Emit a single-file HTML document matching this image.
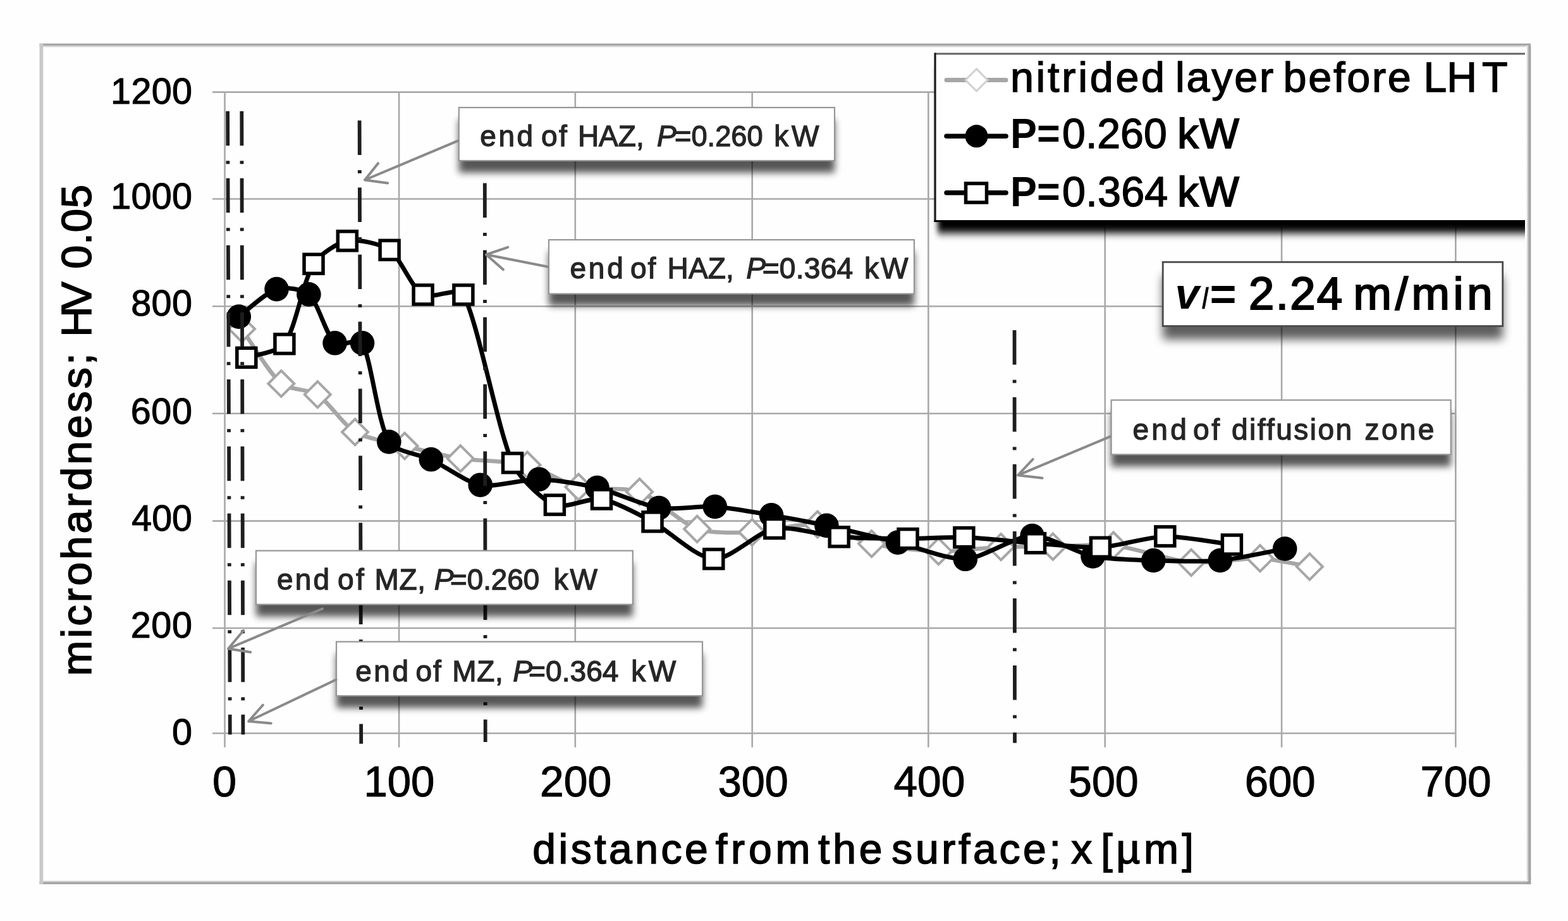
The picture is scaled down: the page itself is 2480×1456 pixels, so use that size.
<!DOCTYPE html>
<html><head><meta charset="utf-8"><title>microhardness chart</title>
<style>
html,body{margin:0;padding:0;background:#fff;}
body{width:2480px;height:1456px;overflow:hidden;}
svg{display:block;}
text{font-family:"Liberation Sans", Arial, sans-serif;}
</style></head><body>

<svg width="2480" height="1456" viewBox="0 0 2480 1456">
<defs><filter id="sh" x="-10%" y="-60%" width="120%" height="220%"><feGaussianBlur stdDeviation="6"/></filter><filter id="shv" x="-10%" y="-60%" width="120%" height="220%"><feGaussianBlur stdDeviation="7.5"/></filter><filter id="shl" x="-10%" y="-30%" width="120%" height="160%"><feGaussianBlur stdDeviation="4 6.5"/></filter><clipPath id="clipr"><rect x="0" y="0" width="2412" height="1456"/></clipPath></defs>
<rect x="0" y="0" width="2480" height="1456" fill="#fefefe"/>
<defs><linearGradient id="gT" x1="0" y1="0" x2="0" y2="1"><stop offset="0" stop-color="#9e9e9e"/><stop offset="0.35" stop-color="#a8a8a8"/><stop offset="1" stop-color="#fefefe"/></linearGradient><linearGradient id="gB" x1="0" y1="1" x2="0" y2="0"><stop offset="0" stop-color="#9e9e9e"/><stop offset="0.4" stop-color="#a6a6a6"/><stop offset="1" stop-color="#fefefe"/></linearGradient><linearGradient id="gR" x1="1" y1="0" x2="0" y2="0"><stop offset="0" stop-color="#9e9e9e"/><stop offset="0.4" stop-color="#a6a6a6"/><stop offset="1" stop-color="#fefefe"/></linearGradient></defs>
<rect x="62.5" y="68.8" width="2358.5" height="6.5" fill="url(#gT)"/>
<rect x="2414" y="72" width="7.3" height="1319.5" fill="url(#gR)"/>
<rect x="62.5" y="1391.5" width="2358.8" height="6.3" fill="url(#gB)"/>
<rect x="62.5" y="68.8" width="5.8" height="1329" fill="#c9c9c9"/>
<path d="M2414,1397.8L2421.3,1397.8L2421.3,1388L2414,1395.3Z" fill="#a2a2a2"/>
<path d="M336,1159.2H2303.3 M336,993.0H2303.3 M336,823.6H2303.3 M336,653.8H2303.3 M336,484.2H2303.3 M336,314.5H2303.3 M336,145.6H2303.3 M355.5,145.6V1181.5 M631.1,145.6V1181.5 M909.8,145.6V1181.5 M1189.7,145.6V1181.5 M1468.3,145.6V1181.5 M1747.7,145.6V1181.5 M2027.1,145.6V1181.5 M2302.3,145.6V1181.5" stroke="#a9a9a9" stroke-width="2.6" fill="none"/>
<text x="272.0" y="1177.1" font-size="57.5" fill="#000" stroke="#000" stroke-width="1.10" xml:space="preserve">0</text>
<text x="206.7" y="1008.2" font-size="57.5" fill="#000" stroke="#000" stroke-width="1.10" textLength="97.2" lengthAdjust="spacing" xml:space="preserve">200</text>
<text x="208.3" y="838.6" font-size="57.5" fill="#000" stroke="#000" stroke-width="1.10" textLength="95.6" lengthAdjust="spacingAndGlyphs" xml:space="preserve">400</text>
<text x="206.7" y="669.5" font-size="57.5" fill="#000" stroke="#000" stroke-width="1.10" textLength="97.2" lengthAdjust="spacing" xml:space="preserve">600</text>
<text x="207.2" y="499.2" font-size="57.5" fill="#000" stroke="#000" stroke-width="1.10" textLength="96.8" lengthAdjust="spacing" xml:space="preserve">800</text>
<text x="175.3" y="330.2" font-size="57.5" fill="#000" stroke="#000" stroke-width="1.10" textLength="128.7" lengthAdjust="spacing" xml:space="preserve">1000</text>
<text x="175.1" y="163.5" font-size="57.5" fill="#000" stroke="#000" stroke-width="1.10" textLength="128.9" lengthAdjust="spacing" xml:space="preserve">1200</text>
<text x="335.9" y="1259.3" font-size="68.5" fill="#000" stroke="#000" stroke-width="1.10" xml:space="preserve">0</text>
<text x="575.4" y="1259.3" font-size="68.5" fill="#000" stroke="#000" stroke-width="1.10" textLength="112.0" lengthAdjust="spacingAndGlyphs" xml:space="preserve">100</text>
<text x="854.0" y="1259.3" font-size="68.5" fill="#000" stroke="#000" stroke-width="1.10" textLength="113.1" lengthAdjust="spacingAndGlyphs" xml:space="preserve">200</text>
<text x="1135.7" y="1259.3" font-size="68.5" fill="#000" stroke="#000" stroke-width="1.10" textLength="111.1" lengthAdjust="spacingAndGlyphs" xml:space="preserve">300</text>
<text x="1413.4" y="1259.3" font-size="68.5" fill="#000" stroke="#000" stroke-width="1.10" textLength="112.9" lengthAdjust="spacingAndGlyphs" xml:space="preserve">400</text>
<text x="1690.1" y="1259.3" font-size="68.5" fill="#000" stroke="#000" stroke-width="1.10" textLength="110.6" lengthAdjust="spacingAndGlyphs" xml:space="preserve">500</text>
<text x="1968.7" y="1259.3" font-size="68.5" fill="#000" stroke="#000" stroke-width="1.10" textLength="112.0" lengthAdjust="spacingAndGlyphs" xml:space="preserve">600</text>
<text x="2246.5" y="1259.3" font-size="68.5" fill="#000" stroke="#000" stroke-width="1.10" textLength="112.1" lengthAdjust="spacingAndGlyphs" xml:space="preserve">700</text>
<text x="842.3" y="1364.8" font-size="66.0" fill="#000" stroke="#000" stroke-width="1.60" textLength="277.4" lengthAdjust="spacing" xml:space="preserve">distance</text>
<text x="1131.7" y="1364.8" font-size="66.0" fill="#000" stroke="#000" stroke-width="1.60" textLength="149.9" lengthAdjust="spacing" xml:space="preserve">from</text>
<text x="1294.0" y="1364.8" font-size="66.0" fill="#000" stroke="#000" stroke-width="1.60" textLength="101.4" lengthAdjust="spacing" xml:space="preserve">the</text>
<text x="1410.3" y="1364.8" font-size="66.0" fill="#000" stroke="#000" stroke-width="1.60" textLength="267.5" lengthAdjust="spacing" xml:space="preserve">surface;</text>
<text x="1694.2" y="1364.8" font-size="66.0" fill="#000" stroke="#000" stroke-width="1.60" xml:space="preserve">x</text>
<text x="1741.2" y="1364.8" font-size="66.0" fill="#000" stroke="#000" stroke-width="1.60" textLength="146.7" lengthAdjust="spacing" xml:space="preserve">[µm]</text>
<text transform="translate(144.4,1064.1) rotate(-90)" x="-4.5" y="0" font-size="67.0" fill="#000" stroke="#000" stroke-width="1.60" textLength="510.3" lengthAdjust="spacing">microhardness;</text>
<text transform="translate(144.4,527.3) rotate(-90)" x="-5.5" y="0" font-size="67.0" fill="#000" stroke="#000" stroke-width="1.60" textLength="87.4" lengthAdjust="spacing">HV</text>
<text transform="translate(144.4,422.2) rotate(-90)" x="-2.7" y="0" font-size="67.0" fill="#000" stroke="#000" stroke-width="1.60" textLength="132.9" lengthAdjust="spacing">0.05</text>
<path d="M382.5,520.0 C392.9,534.4 424.8,589.2 444.8,606.5 C456.1,616.3 489.8,615.5 502.3,623.7 C519.8,635.2 543.5,672.3 561.5,683.0 C579.1,693.4 620.2,700.0 640.0,705.0 C661.9,710.5 705.9,721.4 728.3,724.9 C754.5,729.0 808.2,728.8 834.0,735.0 C855.4,740.2 893.5,764.9 915.0,770.0 C938.5,775.6 988.7,769.4 1011.5,777.5 C1037.1,786.5 1077.1,827.1 1102.6,836.3 C1123.1,843.7 1167.8,842.3 1189.5,841.5 C1215.5,840.5 1267.1,826.5 1293.0,829.0 C1315.6,831.2 1356.4,854.7 1378.6,859.6 C1404.6,865.4 1457.8,871.0 1484.4,871.7 C1509.2,872.3 1558.5,865.7 1583.2,864.7 C1603.7,863.8 1644.8,864.5 1665.3,864.2 C1689.2,863.8 1737.2,859.3 1761.0,862.0 C1792.3,865.6 1852.7,886.5 1884.1,889.3 C1911.3,891.7 1965.7,881.8 1993.0,882.7 C2012.9,883.4 2058.3,893.6 2071.4,895.8" stroke="#a6a6a6" stroke-width="6.5" fill="none" stroke-linejoin="round"/>
<path d="M382.5,499.5L403.0,520.0L382.5,540.5L362.0,520.0Z" fill="#fff" stroke="#a6a6a6" stroke-width="4"/>
<path d="M444.8,586.0L465.3,606.5L444.8,627.0L424.3,606.5Z" fill="#fff" stroke="#a6a6a6" stroke-width="4"/>
<path d="M502.3,603.2L522.8,623.7L502.3,644.2L481.8,623.7Z" fill="#fff" stroke="#a6a6a6" stroke-width="4"/>
<path d="M561.5,662.5L582.0,683.0L561.5,703.5L541.0,683.0Z" fill="#fff" stroke="#a6a6a6" stroke-width="4"/>
<path d="M640.0,684.5L660.5,705.0L640.0,725.5L619.5,705.0Z" fill="#fff" stroke="#a6a6a6" stroke-width="4"/>
<path d="M728.3,704.4L748.8,724.9L728.3,745.4L707.8,724.9Z" fill="#fff" stroke="#a6a6a6" stroke-width="4"/>
<path d="M834.0,714.5L854.5,735.0L834.0,755.5L813.5,735.0Z" fill="#fff" stroke="#a6a6a6" stroke-width="4"/>
<path d="M915.0,749.5L935.5,770.0L915.0,790.5L894.5,770.0Z" fill="#fff" stroke="#a6a6a6" stroke-width="4"/>
<path d="M1011.5,757.0L1032.0,777.5L1011.5,798.0L991.0,777.5Z" fill="#fff" stroke="#a6a6a6" stroke-width="4"/>
<path d="M1102.6,815.8L1123.1,836.3L1102.6,856.8L1082.1,836.3Z" fill="#fff" stroke="#a6a6a6" stroke-width="4"/>
<path d="M1189.5,821.0L1210.0,841.5L1189.5,862.0L1169.0,841.5Z" fill="#fff" stroke="#a6a6a6" stroke-width="4"/>
<path d="M1293.0,808.5L1313.5,829.0L1293.0,849.5L1272.5,829.0Z" fill="#fff" stroke="#a6a6a6" stroke-width="4"/>
<path d="M1378.6,839.1L1399.1,859.6L1378.6,880.1L1358.1,859.6Z" fill="#fff" stroke="#a6a6a6" stroke-width="4"/>
<path d="M1484.4,851.2L1504.9,871.7L1484.4,892.2L1463.9,871.7Z" fill="#fff" stroke="#a6a6a6" stroke-width="4"/>
<path d="M1583.2,844.2L1603.7,864.7L1583.2,885.2L1562.7,864.7Z" fill="#fff" stroke="#a6a6a6" stroke-width="4"/>
<path d="M1665.3,843.7L1685.8,864.2L1665.3,884.7L1644.8,864.2Z" fill="#fff" stroke="#a6a6a6" stroke-width="4"/>
<path d="M1761.0,841.5L1781.5,862.0L1761.0,882.5L1740.5,862.0Z" fill="#fff" stroke="#a6a6a6" stroke-width="4"/>
<path d="M1884.1,868.8L1904.6,889.3L1884.1,909.8L1863.6,889.3Z" fill="#fff" stroke="#a6a6a6" stroke-width="4"/>
<path d="M1993.0,862.2L2013.5,882.7L1993.0,903.2L1972.5,882.7Z" fill="#fff" stroke="#a6a6a6" stroke-width="4"/>
<path d="M2071.4,875.3L2091.9,895.8L2071.4,916.3L2050.9,895.8Z" fill="#fff" stroke="#a6a6a6" stroke-width="4"/>
<path d="M377.8,500.6 C387.8,493.4 419.9,462.7 437.5,457.1 C449.8,453.2 478.9,456.6 488.4,465.4 C503.8,479.6 515.5,529.5 529.6,542.3 C537.6,549.6 567.8,532.8 573.0,542.3 C587.3,568.3 597.2,667.8 615.3,698.5 C624.5,714.0 665.5,718.6 681.8,726.3 C701.6,735.7 738.1,762.7 759.7,766.7 C782.6,770.9 829.3,757.2 852.6,757.7 C875.8,758.2 921.9,765.6 944.5,771.0 C969.5,777.0 1016.7,798.9 1042.1,803.0 C1064.0,806.5 1108.7,799.6 1130.8,801.0 C1153.3,802.4 1197.8,810.6 1220.0,814.4 C1241.9,818.1 1285.7,826.2 1307.4,830.9 C1335.7,837.0 1391.8,850.8 1419.9,857.6 C1446.6,864.0 1499.3,885.2 1526.8,883.8 C1554.8,882.4 1604.6,847.6 1632.6,847.0 C1657.9,846.5 1703.7,874.5 1728.5,879.5 C1752.0,884.3 1800.3,885.2 1824.3,886.0 C1850.7,886.9 1903.5,888.3 1929.8,886.0 C1955.7,883.7 2015.1,870.6 2032.2,867.5" stroke="#000" stroke-width="7" fill="none" stroke-linejoin="round"/>
<circle cx="377.8" cy="500.6" r="19.3" fill="#000"/>
<circle cx="437.5" cy="457.1" r="19.3" fill="#000"/>
<circle cx="488.4" cy="465.4" r="19.3" fill="#000"/>
<circle cx="529.6" cy="542.3" r="19.3" fill="#000"/>
<circle cx="573.0" cy="542.3" r="19.3" fill="#000"/>
<circle cx="615.3" cy="698.5" r="19.3" fill="#000"/>
<circle cx="681.8" cy="726.3" r="19.3" fill="#000"/>
<circle cx="759.7" cy="766.7" r="19.3" fill="#000"/>
<circle cx="852.6" cy="757.7" r="19.3" fill="#000"/>
<circle cx="944.5" cy="771.0" r="19.3" fill="#000"/>
<circle cx="1042.1" cy="803.0" r="19.3" fill="#000"/>
<circle cx="1130.8" cy="801.0" r="19.3" fill="#000"/>
<circle cx="1220.0" cy="814.4" r="19.3" fill="#000"/>
<circle cx="1307.4" cy="830.9" r="19.3" fill="#000"/>
<circle cx="1419.9" cy="857.6" r="19.3" fill="#000"/>
<circle cx="1526.8" cy="883.8" r="19.3" fill="#000"/>
<circle cx="1632.6" cy="847.0" r="19.3" fill="#000"/>
<circle cx="1728.5" cy="879.5" r="19.3" fill="#000"/>
<circle cx="1824.3" cy="886.0" r="19.3" fill="#000"/>
<circle cx="1929.8" cy="886.0" r="19.3" fill="#000"/>
<circle cx="2032.2" cy="867.5" r="19.3" fill="#000"/>
<path d="M389.8,565.3 C399.8,561.7 440.6,556.7 449.9,543.7 C467.6,519.0 479.4,444.5 496.0,417.3 C504.4,403.5 533.4,383.7 549.3,380.8 C566.1,377.7 602.2,385.4 616.1,395.3 C634.1,408.1 650.2,454.5 669.1,465.9 C682.8,474.2 725.4,451.8 732.9,465.9 C756.5,510.2 786.4,676.4 810.5,731.8 C819.9,753.4 855.6,789.2 877.4,798.1 C894.7,805.1 933.1,785.8 951.5,789.0 C973.2,792.7 1012.6,814.4 1032.0,824.8 C1057.0,838.1 1100.5,882.0 1128.8,883.6 C1155.6,885.1 1198.4,840.1 1224.8,835.5 C1250.2,831.0 1301.5,846.8 1327.2,848.8 C1354.3,850.9 1408.8,851.5 1436.0,851.6 C1458.2,851.7 1502.6,848.8 1524.8,849.6 C1553.0,850.6 1609.3,856.6 1637.5,858.7 C1663.2,860.6 1714.7,866.7 1740.4,865.3 C1766.3,863.9 1816.8,848.4 1842.8,847.9 C1869.4,847.4 1930.8,858.8 1948.4,861.0" stroke="#000" stroke-width="7" fill="none" stroke-linejoin="round"/>
<rect x="374.8" y="550.3" width="30" height="30" fill="#fff" stroke="#000" stroke-width="5.5"/>
<rect x="434.9" y="528.7" width="30" height="30" fill="#fff" stroke="#000" stroke-width="5.5"/>
<rect x="481.0" y="402.3" width="30" height="30" fill="#fff" stroke="#000" stroke-width="5.5"/>
<rect x="534.3" y="365.8" width="30" height="30" fill="#fff" stroke="#000" stroke-width="5.5"/>
<rect x="601.1" y="380.3" width="30" height="30" fill="#fff" stroke="#000" stroke-width="5.5"/>
<rect x="654.1" y="450.9" width="30" height="30" fill="#fff" stroke="#000" stroke-width="5.5"/>
<rect x="717.9" y="450.9" width="30" height="30" fill="#fff" stroke="#000" stroke-width="5.5"/>
<rect x="795.5" y="716.8" width="30" height="30" fill="#fff" stroke="#000" stroke-width="5.5"/>
<rect x="862.4" y="783.1" width="30" height="30" fill="#fff" stroke="#000" stroke-width="5.5"/>
<rect x="936.5" y="774.0" width="30" height="30" fill="#fff" stroke="#000" stroke-width="5.5"/>
<rect x="1017.0" y="809.8" width="30" height="30" fill="#fff" stroke="#000" stroke-width="5.5"/>
<rect x="1113.8" y="868.6" width="30" height="30" fill="#fff" stroke="#000" stroke-width="5.5"/>
<rect x="1209.8" y="820.5" width="30" height="30" fill="#fff" stroke="#000" stroke-width="5.5"/>
<rect x="1312.2" y="833.8" width="30" height="30" fill="#fff" stroke="#000" stroke-width="5.5"/>
<rect x="1421.0" y="836.6" width="30" height="30" fill="#fff" stroke="#000" stroke-width="5.5"/>
<rect x="1509.8" y="834.6" width="30" height="30" fill="#fff" stroke="#000" stroke-width="5.5"/>
<rect x="1622.5" y="843.7" width="30" height="30" fill="#fff" stroke="#000" stroke-width="5.5"/>
<rect x="1725.4" y="850.3" width="30" height="30" fill="#fff" stroke="#000" stroke-width="5.5"/>
<rect x="1827.8" y="832.9" width="30" height="30" fill="#fff" stroke="#000" stroke-width="5.5"/>
<rect x="1933.4" y="846.0" width="30" height="30" fill="#fff" stroke="#000" stroke-width="5.5"/>
<line x1="360.1" y1="175.8" x2="363.8" y2="1161.3" stroke="#1e1e1e" stroke-width="5.8" stroke-dasharray="54.5 24 5 22.5"/>
<line x1="382.3" y1="175.8" x2="384.4" y2="1161.3" stroke="#1e1e1e" stroke-width="5.8" stroke-dasharray="54.5 24 5 22.5"/>
<line x1="568.6" y1="190.4" x2="571.2" y2="1175.7" stroke="#1e1e1e" stroke-width="5.8" stroke-dasharray="54.5 24 5 22.5"/>
<line x1="766.8" y1="289.5" x2="767.7" y2="1173.0" stroke="#1e1e1e" stroke-width="5.8" stroke-dasharray="54.5 24 5 22.5"/>
<line x1="1604.5" y1="522.0" x2="1605.0" y2="1174.5" stroke="#1e1e1e" stroke-width="5.8" stroke-dasharray="54.5 24 5 22.5"/>
<rect x="725.8" y="189.0" width="594.2" height="84.0" fill="#000" opacity="0.66" filter="url(#sh)"/>
<rect x="725.8" y="170.0" width="594.2" height="84.0" fill="#fff" stroke="#969696" stroke-width="2.2"/>
<text x="759.3" y="230.5" font-size="46.0" fill="#262626" stroke="#262626" stroke-width="1.30" textLength="83.9" lengthAdjust="spacing" xml:space="preserve">end</text>
<text x="856.0" y="230.5" font-size="46.0" fill="#262626" stroke="#262626" stroke-width="1.30" textLength="40.7" lengthAdjust="spacing" xml:space="preserve">of</text>
<text x="913.9" y="230.5" font-size="46.0" fill="#262626" stroke="#262626" stroke-width="1.30" textLength="104.8" lengthAdjust="spacingAndGlyphs" xml:space="preserve">HAZ,</text>
<text x="1038.9" y="230.5" font-size="46.0" font-style="italic" fill="#262626" stroke="#262626" stroke-width="1.30" xml:space="preserve">P</text>
<text x="1067.1" y="230.5" font-size="46.0" fill="#262626" stroke="#262626" stroke-width="1.30" textLength="139.5" lengthAdjust="spacingAndGlyphs" xml:space="preserve">=0.260</text>
<text x="1224.3" y="230.5" font-size="46.0" fill="#262626" stroke="#262626" stroke-width="1.30" textLength="71.1" lengthAdjust="spacing" xml:space="preserve">kW</text>
<rect x="868.0" y="398.1" width="577.9" height="85.4" fill="#000" opacity="0.66" filter="url(#sh)"/>
<rect x="868.0" y="379.1" width="577.9" height="85.4" fill="#fff" stroke="#969696" stroke-width="2.2"/>
<text x="901.4" y="440.4" font-size="46.0" fill="#262626" stroke="#262626" stroke-width="1.30" textLength="84.4" lengthAdjust="spacing" xml:space="preserve">end</text>
<text x="997.0" y="440.4" font-size="46.0" fill="#262626" stroke="#262626" stroke-width="1.30" textLength="40.2" lengthAdjust="spacing" xml:space="preserve">of</text>
<text x="1055.6" y="440.4" font-size="46.0" fill="#262626" stroke="#262626" stroke-width="1.30" textLength="105.1" lengthAdjust="spacing" xml:space="preserve">HAZ,</text>
<text x="1180.2" y="440.4" font-size="46.0" font-style="italic" fill="#262626" stroke="#262626" stroke-width="1.30" xml:space="preserve">P</text>
<text x="1205.7" y="440.4" font-size="46.0" fill="#262626" stroke="#262626" stroke-width="1.30" textLength="143.5" lengthAdjust="spacing" xml:space="preserve">=0.364</text>
<text x="1366.9" y="440.4" font-size="46.0" fill="#262626" stroke="#262626" stroke-width="1.30" textLength="69.5" lengthAdjust="spacing" xml:space="preserve">kW</text>
<rect x="1757.6" y="651.5" width="537.1" height="86.0" fill="#000" opacity="0.66" filter="url(#sh)"/>
<rect x="1757.6" y="632.5" width="537.1" height="86.0" fill="#fff" stroke="#969696" stroke-width="2.2"/>
<text x="1791.4" y="694.6" font-size="46.0" fill="#262626" stroke="#262626" stroke-width="1.30" textLength="85.4" lengthAdjust="spacing" xml:space="preserve">end</text>
<text x="1886.9" y="694.6" font-size="46.0" fill="#262626" stroke="#262626" stroke-width="1.30" textLength="42.1" lengthAdjust="spacing" xml:space="preserve">of</text>
<text x="1948.0" y="694.6" font-size="46.0" fill="#262626" stroke="#262626" stroke-width="1.30" textLength="190.0" lengthAdjust="spacing" xml:space="preserve">diffusion</text>
<text x="2158.6" y="694.6" font-size="46.0" fill="#262626" stroke="#262626" stroke-width="1.30" textLength="109.8" lengthAdjust="spacing" xml:space="preserve">zone</text>
<rect x="405.0" y="889.6" width="595.8" height="85.0" fill="#000" opacity="0.66" filter="url(#sh)"/>
<rect x="405.0" y="870.6" width="595.8" height="85.0" fill="#fff" stroke="#969696" stroke-width="2.2"/>
<text x="438.1" y="932.4" font-size="46.0" fill="#262626" stroke="#262626" stroke-width="1.30" textLength="83.0" lengthAdjust="spacing" xml:space="preserve">end</text>
<text x="534.0" y="932.4" font-size="46.0" fill="#262626" stroke="#262626" stroke-width="1.30" textLength="41.7" lengthAdjust="spacing" xml:space="preserve">of</text>
<text x="592.6" y="932.4" font-size="46.0" fill="#262626" stroke="#262626" stroke-width="1.30" textLength="80.5" lengthAdjust="spacing" xml:space="preserve">MZ,</text>
<text x="686.8" y="932.4" font-size="46.0" font-style="italic" fill="#262626" stroke="#262626" stroke-width="1.30" xml:space="preserve">P</text>
<text x="712.0" y="932.4" font-size="46.0" fill="#262626" stroke="#262626" stroke-width="1.30" textLength="141.2" lengthAdjust="spacingAndGlyphs" xml:space="preserve">=0.260</text>
<text x="875.7" y="932.4" font-size="46.0" fill="#262626" stroke="#262626" stroke-width="1.30" textLength="69.1" lengthAdjust="spacing" xml:space="preserve">kW</text>
<rect x="532.0" y="1033.5" width="579.0" height="85.5" fill="#000" opacity="0.66" filter="url(#sh)"/>
<rect x="532.0" y="1014.5" width="579.0" height="85.5" fill="#fff" stroke="#969696" stroke-width="2.2"/>
<text x="562.2" y="1077.3" font-size="46.0" fill="#262626" stroke="#262626" stroke-width="1.30" textLength="83.9" lengthAdjust="spacing" xml:space="preserve">end</text>
<text x="657.4" y="1077.3" font-size="46.0" fill="#262626" stroke="#262626" stroke-width="1.30" textLength="40.5" lengthAdjust="spacing" xml:space="preserve">of</text>
<text x="715.2" y="1077.3" font-size="46.0" fill="#262626" stroke="#262626" stroke-width="1.30" textLength="80.5" lengthAdjust="spacing" xml:space="preserve">MZ,</text>
<text x="811.2" y="1077.3" font-size="46.0" font-style="italic" fill="#262626" stroke="#262626" stroke-width="1.30" xml:space="preserve">P</text>
<text x="836.1" y="1077.3" font-size="46.0" fill="#262626" stroke="#262626" stroke-width="1.30" textLength="142.3" lengthAdjust="spacing" xml:space="preserve">=0.364</text>
<text x="998.2" y="1077.3" font-size="46.0" fill="#262626" stroke="#262626" stroke-width="1.30" textLength="71.0" lengthAdjust="spacing" xml:space="preserve">kW</text>
<path d="M724.2,222.6L577.0,284.5M598.0,258.2L577.0,284.5L613.2,289.5" stroke="#8a8a8a" stroke-width="4" fill="none" stroke-linecap="round" stroke-linejoin="round"/>
<path d="M866.6,421.8L769.0,402.5M803.3,390.9L769.0,402.5L796.0,426.2" stroke="#8a8a8a" stroke-width="4" fill="none" stroke-linecap="round" stroke-linejoin="round"/>
<path d="M1756.0,690.1L1609.8,751.3M1633.7,726.0L1609.8,751.3L1648.6,755.8" stroke="#8a8a8a" stroke-width="4" fill="none" stroke-linecap="round" stroke-linejoin="round"/>
<path d="M510.0,962.4L361.0,1025.5M385.2,996.7L361.0,1025.5L396.2,1031.0" stroke="#8a8a8a" stroke-width="4" fill="none" stroke-linecap="round" stroke-linejoin="round"/>
<path d="M531.5,1074.5L393.2,1140.3M415.8,1114.5L393.2,1140.3L428.7,1143.5" stroke="#8a8a8a" stroke-width="4" fill="none" stroke-linecap="round" stroke-linejoin="round"/>
<rect x="1839.2" y="435.3" width="537.5" height="101.2" fill="#000" opacity="0.63" filter="url(#shv)"/>
<rect x="1839.2" y="414.3" width="537.5" height="101.2" fill="#fff" stroke="#4a4a4a" stroke-width="2.8"/>
<text x="1858.6" y="488.3" font-size="69.0" font-weight="bold" font-style="italic" fill="#000" xml:space="preserve">v</text>
<text x="1900.6" y="488.3" font-size="46.0" font-style="italic" fill="#000" stroke="#000" stroke-width="0.30" xml:space="preserve">l</text>
<text x="1913.5" y="488.6" font-size="72.0" font-weight="bold" fill="#000" xml:space="preserve">=</text>
<text x="1975.1" y="488.6" font-size="72.5" fill="#000" stroke="#000" stroke-width="2.20" textLength="148.0" lengthAdjust="spacing" xml:space="preserve">2.24</text>
<text x="2140.6" y="488.6" font-size="72.5" fill="#000" stroke="#000" stroke-width="2.20" textLength="219.9" lengthAdjust="spacing" xml:space="preserve">m/min</text>
<g clip-path="url(#clipr)">
<rect x="1483" y="103.8" width="1000" height="264.7" fill="#000" opacity="1" filter="url(#shl)"/>
<rect x="1479" y="84.8" width="1000" height="264.7" fill="#fff"/>
<line x1="1479" y1="85" x2="2480" y2="85" stroke="#666" stroke-width="3"/>
<line x1="1479" y1="83.5" x2="1479" y2="351" stroke="#1a1a1a" stroke-width="3.2"/>
<line x1="1477.5" y1="349.5" x2="2480" y2="349.5" stroke="#000" stroke-width="3"/>
</g>
<line x1="1497" y1="126.5" x2="1591" y2="126.5" stroke="#a6a6a6" stroke-width="7" stroke-linecap="round"/>
<path d="M1544.5,109L1562,126.5L1544.5,144L1527,126.5Z" fill="#fff" stroke="#cfcfcf" stroke-width="3"/>
<line x1="1497" y1="215.3" x2="1591" y2="215.3" stroke="#000" stroke-width="7.5" stroke-linecap="round"/>
<circle cx="1544.5" cy="215.3" r="18" fill="#000"/>
<line x1="1497" y1="304.8" x2="1591" y2="304.8" stroke="#000" stroke-width="7.5" stroke-linecap="round"/>
<rect x="1527.5" y="290" width="33" height="30" fill="#fff" stroke="#000" stroke-width="5.5"/>
<text x="1597.9" y="145.4" font-size="66.5" fill="#000" stroke="#000" stroke-width="1.40" textLength="244.2" lengthAdjust="spacing" xml:space="preserve">nitrided</text>
<text x="1859.1" y="145.4" font-size="66.5" fill="#000" stroke="#000" stroke-width="1.40" textLength="155.0" lengthAdjust="spacing" xml:space="preserve">layer</text>
<text x="2029.5" y="145.4" font-size="66.5" fill="#000" stroke="#000" stroke-width="1.40" textLength="202.3" lengthAdjust="spacing" xml:space="preserve">before</text>
<text x="2251.5" y="145.4" font-size="66.5" fill="#000" stroke="#000" stroke-width="1.40" textLength="84.5" lengthAdjust="spacingAndGlyphs" xml:space="preserve">LH</text>
<text x="2343.9" y="145.4" font-size="66.5" fill="#000" stroke="#000" stroke-width="1.40" xml:space="preserve">T</text>
<text x="1598.1" y="234.3" font-size="66.5" font-weight="bold" fill="#000" textLength="78.7" lengthAdjust="spacingAndGlyphs" xml:space="preserve">P=</text>
<text x="1680.1" y="234.3" font-size="66.5" fill="#000" stroke="#000" stroke-width="1.40" textLength="165.6" lengthAdjust="spacingAndGlyphs" xml:space="preserve">0.260</text>
<text x="1862.3" y="234.3" font-size="66.5" fill="#000" stroke="#000" stroke-width="2.00" textLength="97.5" lengthAdjust="spacing" xml:space="preserve">kW</text>
<text x="1598.1" y="326.2" font-size="66.5" font-weight="bold" fill="#000" textLength="78.7" lengthAdjust="spacingAndGlyphs" xml:space="preserve">P=</text>
<text x="1680.1" y="326.2" font-size="66.5" fill="#000" stroke="#000" stroke-width="1.40" textLength="167.2" lengthAdjust="spacing" xml:space="preserve">0.364</text>
<text x="1862.3" y="326.2" font-size="66.5" fill="#000" stroke="#000" stroke-width="2.00" textLength="97.5" lengthAdjust="spacing" xml:space="preserve">kW</text>
</svg>
</body></html>
